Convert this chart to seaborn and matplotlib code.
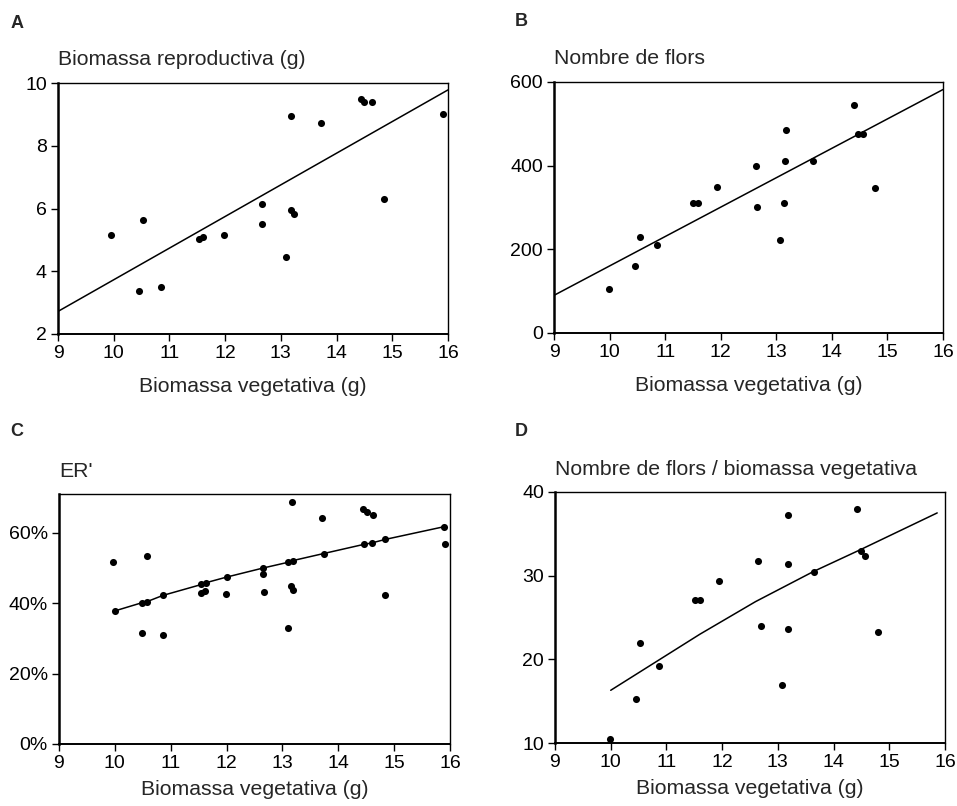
import matplotlib
matplotlib.use("Agg")
import matplotlib.pyplot as plt
from matplotlib.ticker import FuncFormatter
import seaborn as sns

# --- A: reproductive biomass vs vegetative biomass ---
A_VEG = [9.96, 10.46, 10.53, 10.85, 11.53, 11.61, 11.98, 12.67, 12.67, 13.10,
         13.18, 13.18, 13.24, 13.72, 14.44, 14.50, 14.64, 14.86, 15.91]
A_REPRO = [5.16, 3.38, 5.62, 3.50, 5.03, 5.09, 5.16, 6.15, 5.51, 4.47,
           8.96, 5.96, 5.84, 8.74, 9.49, 9.40, 9.38, 6.31, 9.00]
A_FIT_X = [9.0, 16.0]
A_FIT_Y = [2.72, 9.78]

# --- B: number of flowers vs vegetative biomass ---
B_VEG = [9.99, 10.46, 10.55, 10.86, 11.51, 11.59, 11.94, 12.63, 12.66,
         13.06, 13.14, 13.16, 13.17, 13.66, 14.39, 14.47, 14.56, 14.78]
B_FLOWERS = [105, 160, 229, 210, 311, 311, 350, 399, 301,
             222, 311, 411, 486, 412, 544, 475, 475, 346]
B_FIT_X = [9.0, 16.0]
B_FIT_Y = [90, 582]

# --- C: ER' (%) vs vegetative biomass ---
C_VEG = [9.97, 10.48, 10.57, 10.86, 11.55, 11.62, 11.99, 12.66, 12.67, 13.10,
         13.17, 13.15, 13.19, 13.70, 14.44, 14.52, 14.62, 14.84, 15.91]
C_ER = [51.6, 31.4, 53.3, 31.0, 43.0, 43.5, 42.5, 48.4, 43.3, 33.0,
        68.7, 45.0, 43.6, 64.2, 66.7, 65.8, 64.9, 42.2, 56.7]
C_FIT_X = [10.0, 10.48, 10.57, 10.86, 11.55, 11.63, 12.0, 12.66, 13.10,
           13.19, 13.74, 14.46, 14.60, 14.84, 15.89]
C_FIT_Y = [37.8, 40.1, 40.4, 42.2, 45.3, 45.8, 47.4, 50.0, 51.6,
           52.1, 54.1, 56.7, 57.1, 58.1, 61.7]

# --- D: flowers / vegetative biomass ---
D_VEG = [9.98, 10.46, 10.53, 10.86, 11.52, 11.60, 11.94, 12.65, 12.69,
         13.07, 13.19, 13.18, 13.18, 13.65, 14.42, 14.50, 14.57, 14.80]
D_RATIO = [10.5, 15.3, 22.0, 19.2, 27.1, 27.1, 29.4, 31.7, 24.0,
           16.9, 37.2, 31.4, 23.6, 30.4, 38.0, 33.0, 32.4, 23.3]
D_FIT_X = [10.0, 11.6, 12.6, 13.64, 14.48, 15.86]
D_FIT_Y = [16.3, 23.0, 26.9, 30.5, 33.1, 37.5]

X_TICKS = list(range(9, 17))
X_LABEL = "Biomassa vegetativa (g)"

sns.set_style("ticks")
plt.rcParams["font.family"] = ["Liberation Sans", "DejaVu Sans"]

W, H = 957, 806
fig = plt.figure(figsize=(W / 100, H / 100), dpi=100)


def draw_panel(box, letter, letter_xy, title, title_y, x, y, fit_x, fit_y,
               ylim, yticks, fit_marks=False, pct=False, labelpad=10):
    left, top, right, bottom = box
    ax = fig.add_axes([left / W, 1 - bottom / H, (right - left) / W, (bottom - top) / H])
    sns.scatterplot(x=x, y=y, color="black", s=26, linewidth=0, marker="o", ax=ax)
    if fit_marks:
        sns.scatterplot(x=fit_x, y=fit_y, color="black", s=26, linewidth=0, marker="o", ax=ax)
    sns.lineplot(x=fit_x, y=fit_y, color="black", linewidth=1.1, ax=ax)

    ax.set_xlim(9, 16)
    ax.set_ylim(*ylim)
    ax.set_xticks(X_TICKS)
    ax.set_yticks(yticks)
    if pct:
        ax.yaxis.set_major_formatter(FuncFormatter(lambda v, _: f"{v:.0f}%"))
    ax.set_xlabel(X_LABEL, fontsize=15.3, labelpad=labelpad)
    ax.set_ylabel("")
    ax.tick_params(direction="out", length=5, width=1.0, labelsize=14, pad=3, colors="black")

    for side, lw in [("left", 1.8), ("bottom", 1.4), ("top", 1.0), ("right", 1.0)]:
        ax.spines[side].set_linewidth(lw)
        ax.spines[side].set_color("black")

    fig.text(letter_xy[0] / W, 1 - letter_xy[1] / H, letter, fontsize=13,
             fontweight="bold", ha="center", va="center")
    fig.text(left / W, 1 - title_y / H, title, fontsize=15.3, ha="left", va="baseline")
    return ax


draw_panel((58, 83, 448, 334), "A", (17, 23), "Biomassa reproductiva (g)", 65,
           A_VEG, A_REPRO, A_FIT_X, A_FIT_Y, (2, 10), [2, 4, 6, 8, 10], labelpad=11)
draw_panel((554, 82, 943, 333), "B", (521, 21), "Nombre de flors", 64,
           B_VEG, B_FLOWERS, B_FIT_X, B_FIT_Y, (0, 600), [0, 200, 400, 600], labelpad=11)
draw_panel((59, 494, 450, 744), "C", (17, 432), "ER'", 477,
           C_VEG, C_ER, C_FIT_X, C_FIT_Y, (0, 71), [0, 20, 40, 60],
           fit_marks=True, pct=True, labelpad=6)
draw_panel((555, 492, 945, 743), "D", (521, 431), "Nombre de flors / biomassa vegetativa", 475,
           D_VEG, D_RATIO, D_FIT_X, D_FIT_Y, (10, 40), [10, 20, 30, 40], labelpad=6)

fig.savefig("out.png", dpi=100)
